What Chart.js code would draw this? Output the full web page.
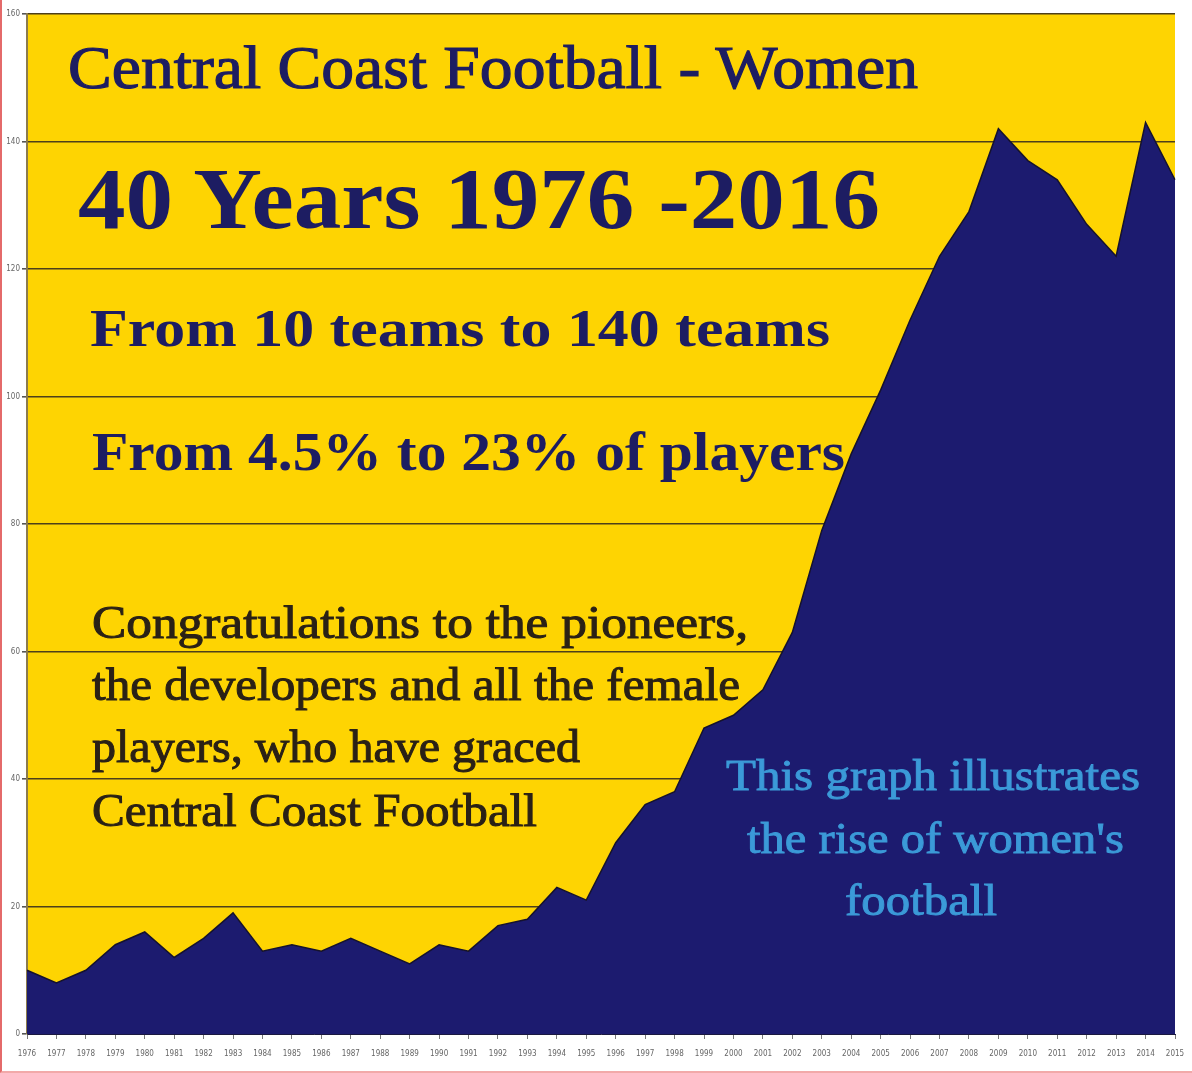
<!DOCTYPE html>
<html>
<head>
<meta charset="utf-8">
<title>Central Coast Football - Women</title>
<script src="https://cdn.jsdelivr.net/npm/chart.js@4.4.1/dist/chart.umd.min.js"></script>
<style>
  html, body { margin: 0; padding: 0; background: #fff; }
  #wrap { position: relative; width: 1192px; height: 1073px; overflow: hidden; }
  #chart { display: block; }
  #frame { position: absolute; left: 0; top: 0; width: 1192px; height: 1073px; box-sizing: border-box;
           border-left: 2px solid #e46a6a; border-bottom: 2px solid #f2a9a9; pointer-events: none; }
  .txt { position: absolute; left: 0; top: 0; white-space: nowrap; line-height: 1;
         font-family: "Liberation Serif", "DejaVu Serif", serif; transform-origin: 0 0; }
</style>
</head>
<body>
<div id="wrap">
  <canvas id="chart" width="1192" height="1073"></canvas>
  <div id="frame"></div>
</div>
<script>
// data (teams per season)
const years = ["1976", "1977", "1978", "1979", "1980", "1981", "1982", "1983", "1984", "1985",
  "1986", "1987", "1988", "1989", "1990", "1991", "1992", "1993", "1994", "1995",
  "1996", "1997", "1998", "1999", "2000", "2001", "2002", "2003", "2004", "2005",
  "2006", "2007", "2008", "2009", "2010", "2011", "2012", "2013", "2014", "2015"];
const teams = [10, 8, 10, 14, 16, 12, 15, 19, 13, 14,
  13, 15, 13, 11, 14, 13, 17, 18, 23, 21,
  30, 36, 38, 48, 50, 54, 63, 79, 91, 101,
  112, 122, 129, 142, 137, 134, 127, 122, 143, 134];
const yMin = 0;
const yMax = 160;
const yStep = 20;

const yellow = "#FED402";
const navy = "#1c1b6f";

const plotBackground = {
  id: "plotBackground",
  beforeDraw(chart) {
    const { ctx, chartArea } = chart;
    ctx.save();
    ctx.fillStyle = yellow;
    ctx.fillRect(chartArea.left, chartArea.top, chartArea.right - chartArea.left, chartArea.bottom - chartArea.top);
    ctx.restore();
  }
};

new Chart(document.getElementById("chart"), {
  type: "line",
  data: {
    labels: years,
    datasets: [{
      data: teams,
      fill: "origin",
      backgroundColor: navy,
      borderColor: "#15122e",
      borderWidth: 1.5,
      pointRadius: 0,
      tension: 0
    }]
  },
  options: {
    responsive: false,
    animation: false,
    layout: { padding: { top: 14, right: 17, left: 0, bottom: 0 } },
    plugins: { legend: { display: false }, tooltip: { enabled: false }, title: { display: false } },
    scales: {
      x: {
        offset: false,
        ticks: { autoSkip: false, maxRotation: 0, minRotation: 0, color: "#666", font: { size: 8, family: "DejaVu Sans Condensed, DejaVu Sans" }, padding: 10 },
        grid: { drawOnChartArea: false, tickLength: 5, color: "#777" },
        border: { color: "#1a1840", width: 1 },
        afterFit: s => { s.height = 39; s.paddingLeft = 0; s.paddingRight = 0; }
      },
      y: {
        min: yMin,
        max: yMax,
        ticks: { stepSize: yStep, color: "#666", font: { size: 8, family: "DejaVu Sans Condensed, DejaVu Sans" }, padding: 2 },
        grid: { color: "#4d3f1a", lineWidth: 1.6, tickLength: 5, tickColor: "#555" },
        border: { color: "#8c7c4c", width: 2 },
        afterFit: s => { s.width = 27; }
      }
    }
  },
  plugins: [plotBackground]
});

// overlay text: left edge, baseline, target width; stroke thickens the regular face
const textLines = [
  { text: "Central Coast Football - Women", x: 68, base: 88, w: 850, size: 62, color: "#1d1d62", weight: "normal", stroke: 1.2 },
  { text: "40 Years 1976 -2016", x: 78, base: 228, w: 802, size: 86, color: "#1d1d62", weight: "bold", stroke: 0 },
  { text: "From 10 teams to 140 teams", x: 90, base: 346, w: 740, size: 52, color: "#1d1d62", weight: "bold", stroke: 0 },
  { text: "From 4.5% to 23% of players", x: 92, base: 470, w: 753, size: 54, color: "#1d1d62", weight: "bold", stroke: 0 },
  { text: "Congratulations to the pioneers,", x: 92, base: 638, w: 656, size: 46, color: "#2a2116", weight: "normal", stroke: 1 },
  { text: "the developers and all the female", x: 92, base: 700, w: 648, size: 46, color: "#2a2116", weight: "normal", stroke: 1 },
  { text: "players, who have graced", x: 92, base: 762, w: 488, size: 46, color: "#2a2116", weight: "normal", stroke: 1 },
  { text: "Central Coast Football", x: 92, base: 826, w: 445, size: 46, color: "#2a2116", weight: "normal", stroke: 1 },
  { text: "This graph illustrates", x: 726, base: 790, w: 414, size: 44, color: "#3b9ad8", weight: "normal", stroke: 0.9 },
  { text: "the rise of women's", x: 747, base: 853, w: 377, size: 44, color: "#3b9ad8", weight: "normal", stroke: 0.9 },
  { text: "football", x: 845, base: 915, w: 152, size: 44, color: "#3b9ad8", weight: "normal", stroke: 0.9 }
];

function placeText() {
  const wrap = document.getElementById("wrap");
  textLines.forEach(t => {
    const div = document.createElement("div");
    div.className = "txt";
    div.style.fontSize = t.size + "px";
    div.style.fontWeight = t.weight;
    div.style.color = t.color;
    if (t.stroke) div.style.webkitTextStroke = t.stroke + "px " + t.color;
    div.appendChild(document.createTextNode(t.text));
    const marker = document.createElement("span");
    marker.style.display = "inline-block";
    marker.style.width = "0";
    marker.style.height = "0";
    div.appendChild(marker);
    wrap.appendChild(div);
    const box = div.getBoundingClientRect();
    const baseOffset = marker.getBoundingClientRect().top - box.top;
    const sx = t.w / box.width;
    div.style.left = t.x + "px";
    div.style.top = (t.base - baseOffset) + "px";
    div.style.transform = "scaleX(" + sx.toFixed(4) + ")";
  });
}

if (document.fonts && document.fonts.ready) {
  document.fonts.ready.then(placeText);
} else {
  placeText();
}
</script>
</body>
</html>
